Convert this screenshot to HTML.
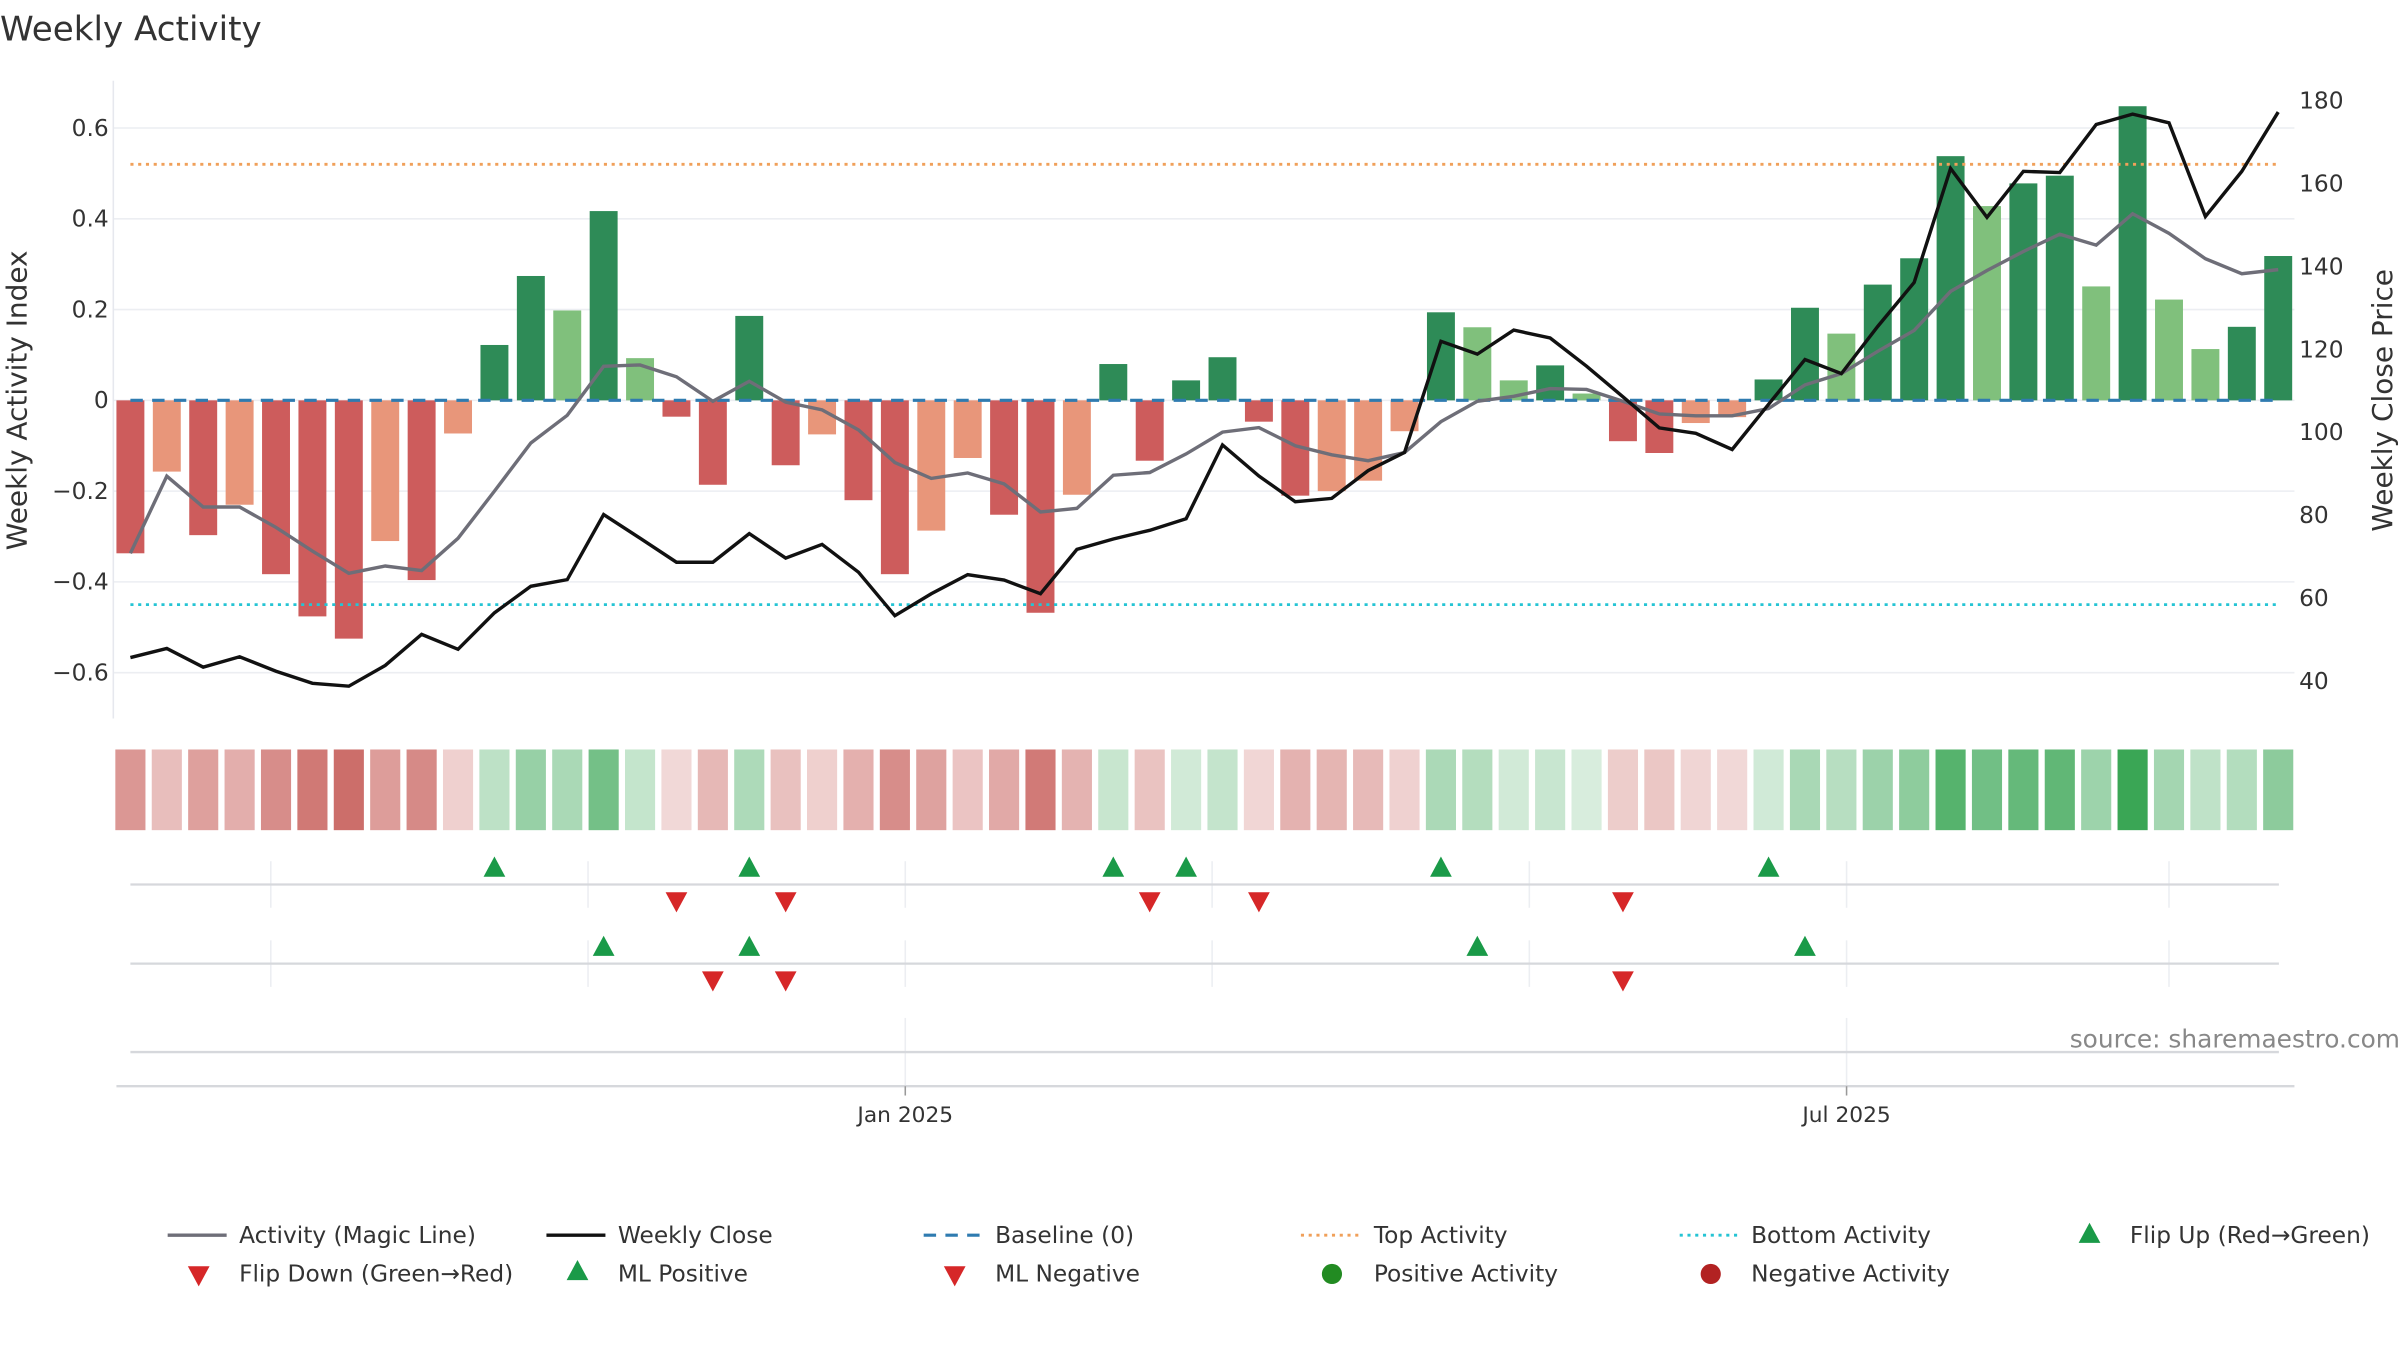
<!DOCTYPE html>
<html><head><meta charset="utf-8"><style>
html,body{margin:0;padding:0;background:#fff;}
svg{display:block;font-family:"DejaVu Sans","Liberation Sans",sans-serif;}
</style></head><body>
<svg id="chart" xmlns="http://www.w3.org/2000/svg" width="2400" height="1350" viewBox="0 0 1546 870" preserveAspectRatio="none">
<text x="0" y="26" font-size="22" fill="#333">Weekly Activity</text>
<g id="plot"></g>
</svg>
<script>
const activity=[-0.337,-0.157,-0.297,-0.23,-0.383,-0.476,-0.525,-0.31,-0.396,-0.073,0.122,0.274,0.198,0.417,0.093,-0.036,-0.186,0.186,-0.143,-0.075,-0.22,-0.383,-0.287,-0.127,-0.252,-0.468,-0.208,0.08,-0.133,0.044,0.095,-0.047,-0.21,-0.2,-0.177,-0.068,0.194,0.161,0.044,0.077,0.015,-0.09,-0.116,-0.05,-0.037,0.046,0.204,0.147,0.255,0.313,0.538,0.428,0.478,0.495,0.251,0.648,0.222,0.113,0.162,0.318];
const strong=[1,0,1,0,1,1,1,0,1,0,1,1,0,1,0,1,1,1,1,0,1,1,0,0,1,1,0,1,1,1,1,1,1,0,0,0,1,0,0,1,0,1,1,0,0,1,1,0,1,1,1,0,1,1,0,1,0,0,1,1];
const magicLine=[-0.337,-0.167,-0.235,-0.235,-0.28,-0.332,-0.381,-0.365,-0.375,-0.304,-0.2,-0.094,-0.033,0.075,0.078,0.052,-0.002,0.042,-0.004,-0.021,-0.065,-0.137,-0.172,-0.16,-0.184,-0.246,-0.238,-0.165,-0.159,-0.118,-0.07,-0.06,-0.1,-0.12,-0.133,-0.115,-0.047,-0.002,0.009,0.026,0.024,-0.002,-0.03,-0.034,-0.034,-0.018,0.034,0.059,0.108,0.154,0.24,0.286,0.328,0.366,0.342,0.411,0.368,0.312,0.279,0.288];
const weeklyClose=[45.7,47.9,43.4,45.9,42.4,39.5,38.8,43.8,51.3,47.7,56.5,62.9,64.5,80.2,74.5,68.7,68.7,75.6,69.7,73,66.3,55.8,61.1,65.7,64.4,61.1,71.8,74.3,76.4,79.2,97,89.5,83.3,84.1,90.8,95.2,122,118.9,124.7,122.8,116,108.6,101.1,99.8,95.9,106.8,117.6,114.2,125.6,136.2,163.7,151.9,163,162.7,174.3,176.8,174.7,152.1,163,177.3];
const flipUp=[10,17,27,29,36,45];
const flipDown=[15,18,28,31,41];
const mlPositive=[13,17,37,46];
const mlNegative=[16,18,41];
const leftTicks=[0.6,0.4,0.2,0,-0.2,-0.4,-0.6];
const rightTicks=[180,160,140,120,100,80,60,40];
const topActivity=0.52, bottomActivity=-0.45;
const startDate="2024-08-05";
const monthGrid=["2024-09-01","2024-11-01","2025-01-01","2025-03-01","2025-05-01","2025-07-01","2025-09-01"];
const dateTicks=[["2025-01-01","Jan 2025"],["2025-07-01","Jul 2025"]];

const NS="http://www.w3.org/2000/svg";
const g=document.getElementById('plot');
function el(tag,attrs,parent){const e=document.createElementNS(NS,tag);for(const k in attrs)e.setAttribute(k,attrs[k]);(parent||g).appendChild(e);return e;}
const X0=84,DX=23.45;
const x=i=>X0+DX*i;
const yL=v=>258-v*292.5;
const yR=p=>439-(p-40)*(374/140);
const xDate=s=>x((new Date(s)-new Date(startDate))/(7*86400000));
const L=73,R=1478;

// gridlines & ticks
leftTicks.forEach(t=>{
  const gl=el('line',{x1:L,x2:R,y1:yL(t),y2:yL(t),stroke:'#eceef2','stroke-width':1});
  
  
  const tx=el('text',{x:70,y:yL(t)+5,'text-anchor':'end','font-size':15,fill:'#333'});
  tx.textContent=t===0?'0':(t<0?'\u2212'+Math.abs(t):String(t));
  
  
});
rightTicks.forEach(t=>{
  const tx=el('text',{x:1481,y:yR(t)+5,'font-size':15,fill:'#333'});
  tx.textContent=t;
  
  
});
const ax=el('line',{x1:L,x2:L,y1:52,y2:463,stroke:'#e6e8ee','stroke-width':1});


let t1=el('text',{x:17,y:258,'font-size':18,fill:'#333','text-anchor':'middle',transform:'rotate(-90 17 258)'});
t1.textContent='Weekly Activity Index';


let t2=el('text',{x:1541,y:258,'font-size':18,fill:'#333','text-anchor':'middle',transform:'rotate(-90 1541 258)'});
t2.textContent='Weekly Close Price';



// bars
activity.forEach((v,i)=>{
  const pos=v>=0;
  const col=pos?(strong[i]?'#2e8b57':'#80c07c'):(strong[i]?'#cd5c5c':'#e8967a');
  const b=el('rect',{x:x(i)-9,width:18,y:Math.min(yL(v),yL(0)),height:Math.abs(yL(v)-yL(0)),fill:col});
  
  
});
// reference lines
let bl=el('line',{x1:x(0),x2:x(59),y1:yL(0),y2:yL(0),stroke:'#2f7bb0','stroke-width':2,'stroke-dasharray':'8 6'});


let ta=el('line',{x1:x(0),x2:x(59),y1:yL(topActivity),y2:yL(topActivity),stroke:'#f0a05a','stroke-width':1.8,'stroke-dasharray':'2 3'});


let ba=el('line',{x1:x(0),x2:x(59),y1:yL(bottomActivity),y2:yL(bottomActivity),stroke:'#25c4d4','stroke-width':1.8,'stroke-dasharray':'2 3'});


// lines
let ml=el('polyline',{points:magicLine.map((v,i)=>x(i)+','+yL(v)).join(' '),fill:'none',stroke:'#6e6e78','stroke-width':2.2});


let wc=el('polyline',{points:weeklyClose.map((v,i)=>x(i)+','+yR(v)).join(' '),fill:'none',stroke:'#111','stroke-width':2.2});



// heatmap
function heat(v){const t=Math.min(Math.abs(v)/0.65,1),m=0.18+0.82*t;
  const base=v>=0?[58,166,85]:[195,83,78];
  return 'rgb('+base.map(c=>Math.round(255+(c-255)*m)).join(',')+')';}
activity.forEach((v,i)=>{
  const c=el('rect',{x:x(i)-9.7,width:19.4,y:483,height:52,fill:heat(v)});
  
  
});

// marker panels
[[555,585,570],[606,636,621]].forEach(p=>{
  monthGrid.forEach(d=>{const gx=el('line',{x1:xDate(d),x2:xDate(d),y1:p[0],y2:p[1],stroke:'#eceef2','stroke-width':1});
    
    });
  const h=el('line',{x1:84,x2:1468,y1:p[2],y2:p[2],stroke:'#d6d8dc','stroke-width':1.5});
  
  
});
dateTicks.forEach(d=>{const gx=el('line',{x1:xDate(d[0]),x2:xDate(d[0]),y1:656,y2:700,stroke:'#eceef2','stroke-width':1});
  
  });
let r3=el('line',{x1:84,x2:1468,y1:678,y2:678,stroke:'#d6d8dc','stroke-width':1.5});


let xa=el('line',{x1:75,x2:1478,y1:700,y2:700,stroke:'#d6d8dc','stroke-width':1.5});


dateTicks.forEach(d=>{
  const tk=el('line',{x1:xDate(d[0]),x2:xDate(d[0]),y1:700,y2:706,stroke:'#999','stroke-width':1});
  
  
  const tx=el('text',{x:xDate(d[0]),y:723,'text-anchor':'middle','font-size':14,fill:'#333'});
  tx.textContent=d[1];
  
  
});
function tri(cx,cy,up,col,name){
  const s=7;const pts=up?[cx-s,cy+6,cx+s,cy+6,cx,cy-7]:[cx-s,cy-6,cx+s,cy-6,cx,cy+7];
  const t=el('polygon',{points:pts.join(' '),fill:col});
  
  
}
flipUp.forEach(i=>tri(x(i),559,true,'#1a9a48','flip-up-marker'));
flipDown.forEach(i=>tri(x(i),581,false,'#d62728','flip-down-marker'));
mlPositive.forEach(i=>tri(x(i),610,true,'#1a9a48','ml-positive-marker'));
mlNegative.forEach(i=>tri(x(i),632,false,'#d62728','ml-negative-marker'));

let src=el('text',{x:1546,y:675,'text-anchor':'end','font-size':16,fill:'#888'});
src.textContent='source: sharemaestro.com';



// legend
const lg=el('g',{});


function ltext(tx,ty,s){const t=el('text',{x:tx,y:ty+5,'font-size':15,fill:'#333'},lg);t.textContent=s;
  
  }
function lline(x1,y,stroke,dash,w){const l=el('line',{x1:x1,x2:x1+38,y1:y,y2:y,stroke:stroke,'stroke-width':w,'stroke-dasharray':dash},lg);
  
  }
lline(108,796,'#6e6e78','none',2.2);ltext(154,796,'Activity (Magic Line)');
lline(352,796,'#111','none',2.2);ltext(398,796,'Weekly Close');
lline(595,796,'#2f7bb0','8 6',2);ltext(641,796,'Baseline (0)');
lline(838,796,'#f0a05a','2 3',1.8);ltext(885,796,'Top Activity');
lline(1082,796,'#25c4d4','2 3',1.8);ltext(1128,796,'Bottom Activity');
tri(1346,795,true,'#1a9a48','legend-flip-up');ltext(1372,796,'Flip Up (Red\u2192Green)');
tri(128,822,false,'#d62728','legend-flip-down');ltext(154,821,'Flip Down (Green\u2192Red)');
tri(372,819,true,'#1a9a48','legend-ml-positive');ltext(398,821,'ML Positive');
tri(615,822,false,'#d62728','legend-ml-negative');ltext(641,821,'ML Negative');
let c1=el('circle',{cx:858,cy:821,r:6.5,fill:'#228b22'},lg);


ltext(885,821,'Positive Activity');
let c2=el('circle',{cx:1102,cy:821,r:6.5,fill:'#b22222'},lg);


ltext(1128,821,'Negative Activity');
</script>
</body></html>
